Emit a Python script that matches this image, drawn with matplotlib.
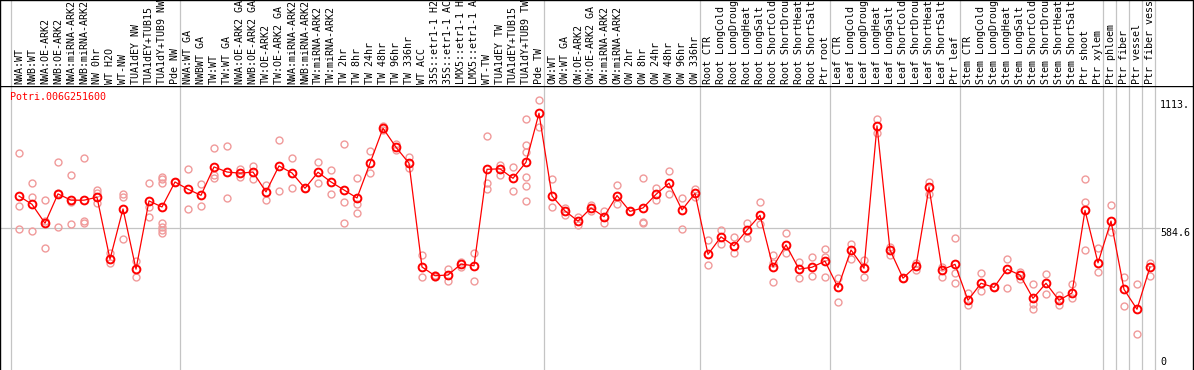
import matplotlib
matplotlib.use("Agg")
import matplotlib.pyplot as plt

labels = [
    "NWA:WT", "NWB:WT", "NWA:OE-ARK2", "NWB:OE-ARK2", "NWA:miRNA-ARK2",
    "NWB:miRNA-ARK2", "NW 0hr", "WT H2O", "WT-NW", "TUA1dEY NW",
    "TUA1dEY+TUB15", "TUA1dY+TUB9 NW", "Pde NW",
    "NWA:WT GA", "NWBWT GA", "TW:WT", "TW:WT GA", "NWA:OE-ARK2 GA",
    "NWB:OE-ARK2 GA", "TW:OE-ARK2", "TW:OE-ARK2 GA", "NWA:miRNA-ARK2",
    "NWB:miRNA-ARK2", "TW:miRNA-ARK2", "TW:miRNA-ARK2", "TW 2hr", "TW 8hr",
    "TW 24hr", "TW 48hr", "TW 96hr", "TW 336hr", "WT ACC", "35S::etr1-1 H2",
    "35S::etr1-1 AC", "LMX5::etr1-1 H", "LMX5::etr1-1 A", "WT-TW",
    "TUA1dEY TW", "TUA1dEY+TUB15", "TUA1dY+TUB9 TW", "Pde TW",
    "OW:WT", "OW:WT GA", "OW:OE-ARK2", "OW:OE-ARK2 GA", "OW:miRNA-ARK2",
    "OW:miRNA-ARK2", "OW 2hr", "OW 8hr", "OW 24hr", "OW 48hr", "OW 96hr",
    "OW 336hr",
    "Root CTR", "Root LongCold", "Root LongDroug", "Root LongHeat",
    "Root LongSalt", "Root ShortCold", "Root ShortDrou", "Root ShortHeat",
    "Root ShortSalt", "Ptr root",
    "Leaf CTR", "Leaf LongCold", "Leaf LongDroug", "Leaf LongHeat",
    "Leaf LongSalt", "Leaf ShortCold", "Leaf ShortDrou", "Leaf ShortHeat",
    "Leaf ShortSalt", "Ptr leaf",
    "Stem CTR", "Stem LongCold", "Stem LongDroug", "Stem LongHeat",
    "Stem LongSalt", "Stem ShortCold", "Stem ShortDrou", "Stem ShortHeat",
    "Stem ShortSalt", "Ptr shoot", "Ptr xylem",
    "Ptr phloem", "Ptr fiber", "Ptr vessel", "Ptr fiber vess",
]

means = [
    716, 682, 604, 725, 699, 699, 711, 456, 663, 415, 696, 671, 774,
    744, 719, 836, 815, 810, 815, 733, 840, 811, 748, 814, 774, 741, 708,
    851, 995, 917, 851, 424, 388, 391, 436, 429, 826, 828, 789, 855, 1057,
    716, 655, 613, 667, 631, 718, 653, 667, 723, 769, 659, 727,
    476, 548, 511, 576, 637, 424, 515, 415, 423, 448,
    340, 494, 419, 1005, 494, 378, 428, 752, 412, 435,
    287, 357, 340, 415, 391, 295, 357, 287, 317, 657, 441,
    613, 332, 250, 424,
]

reps = [
    [892, 676, 579], [769, 711, 572], [699, 615, 501], [855, 590, 730],
    [802, 693, 600], [872, 615, 606], [741, 727, 686], [483, 439],
    [725, 713, 538], [450, 382], [769, 672, 631],
    [796, 785, 771, 604, 590, 576, 565], [774],
    [826, 662], [765, 674], [913, 803, 789], [922, 707], [826, 793],
    [840, 788], [762, 700], [947, 737], [872, 749], [748], [855, 770],
    [823, 723], [930, 692, 604], [789, 682, 645], [902, 810], [1006, 988],
    [930, 906], [876, 830], [473, 382], [382, 391], [416, 368], [443, 425],
    [482, 365], [962, 769, 744], [845, 802], [834, 737],
    [1032, 925, 899, 796, 759, 696], [1113, 1002],
    [786, 672], [666, 637], [631, 597], [679, 655], [656, 604], [760, 682],
    [653], [789, 604, 608], [751, 700], [819, 723], [707, 579], [744, 713],
    [535, 432], [576, 518], [549, 483], [604, 542], [690, 600],
    [473, 439, 361], [563, 480], [446, 378], [466, 387], [498, 466, 382],
    [378, 280], [518, 456], [453, 382], [1033, 975], [508, 473], [378],
    [439, 412], [775, 725], [425, 382], [542, 398, 359],
    [316, 268], [398, 325], [340], [457, 336], [405, 373], [353, 272, 250],
    [395, 312], [309, 268], [353, 295], [785, 690, 493], [501, 405],
    [678, 569], [384, 263], [353, 147], [442, 388],
]

gene = "Potri.006G251600"
tick_vals = [1113, 584.6, 0]
tick_text = ["1113.", "584.6", "0"]
# last index of each group (-1 = line before the first one)
group_ends = [-1, 12, 40, 52, 62, 72, 83, 84, 85, 86, 87]

W, H = 1194, 370
head = 86
right = 1192.5  # pixel of right frame line
mono = "DejaVu Sans Mono"

fig = plt.figure(figsize=(W / 100, H / 100), dpi=100)
ax = fig.add_axes([0, 0, right / W, (H - head) / H])
hx = fig.add_axes([0, (H - head) / H, right / W, head / H], sharex=ax)

x0, x1 = -19 / 13, (right - 19) / 13
ax.set_xlim(x0, x1)
ax.set_ylim(0, 1169)
hx.set_ylim(0, head)

# black frame round header and plot, no bottom edge
for a in (ax, hx):
    a.set_xticks([])
    a.set_yticks([])
    for side, s in a.spines.items():
        s.set_visible(side != "bottom")
        s.set_linewidth(1.0)
        s.set_color("black")

for g in group_ends:
    for a in (ax, hx):
        a.axvline(g + 0.385, color="#c4c4c4", lw=0.9, zorder=0)

ax.hlines(584.6, x0, (1160 - 19) / 13, color="#c4c4c4", lw=0.9, zorder=0)

xs = list(range(len(labels)))
for i, r in enumerate(reps):
    ax.plot([i] * len(r), r, "o", ms=5, mfc="none", mec="#f09a9a",
            mew=1.0, zorder=2)
ax.plot(xs, means, "-", color="red", lw=0.9, zorder=3)
ax.plot(xs, means, "o", ms=5.6, mfc="none", mec="red", mew=1.4, zorder=4)

for i, lab in enumerate(labels):
    hx.text(i, 2, lab, rotation=90, ha="center", va="bottom",
            family=mono, fontsize=7.2, color="black")

ax.text(-0.7, 1124, gene, color="red", family=mono, fontsize=7.2,
        ha="left", va="center")

tx = (1160 - 19) / 13
for v, t in zip(tick_vals, tick_text):
    if v == 0:
        ax.text(tx, 12, t, family=mono, fontsize=7.2, ha="left", va="bottom")
    else:
        ax.text(tx, v, t, family=mono, fontsize=7.2, ha="left", va="top")

fig.savefig("out.png", dpi=100)
